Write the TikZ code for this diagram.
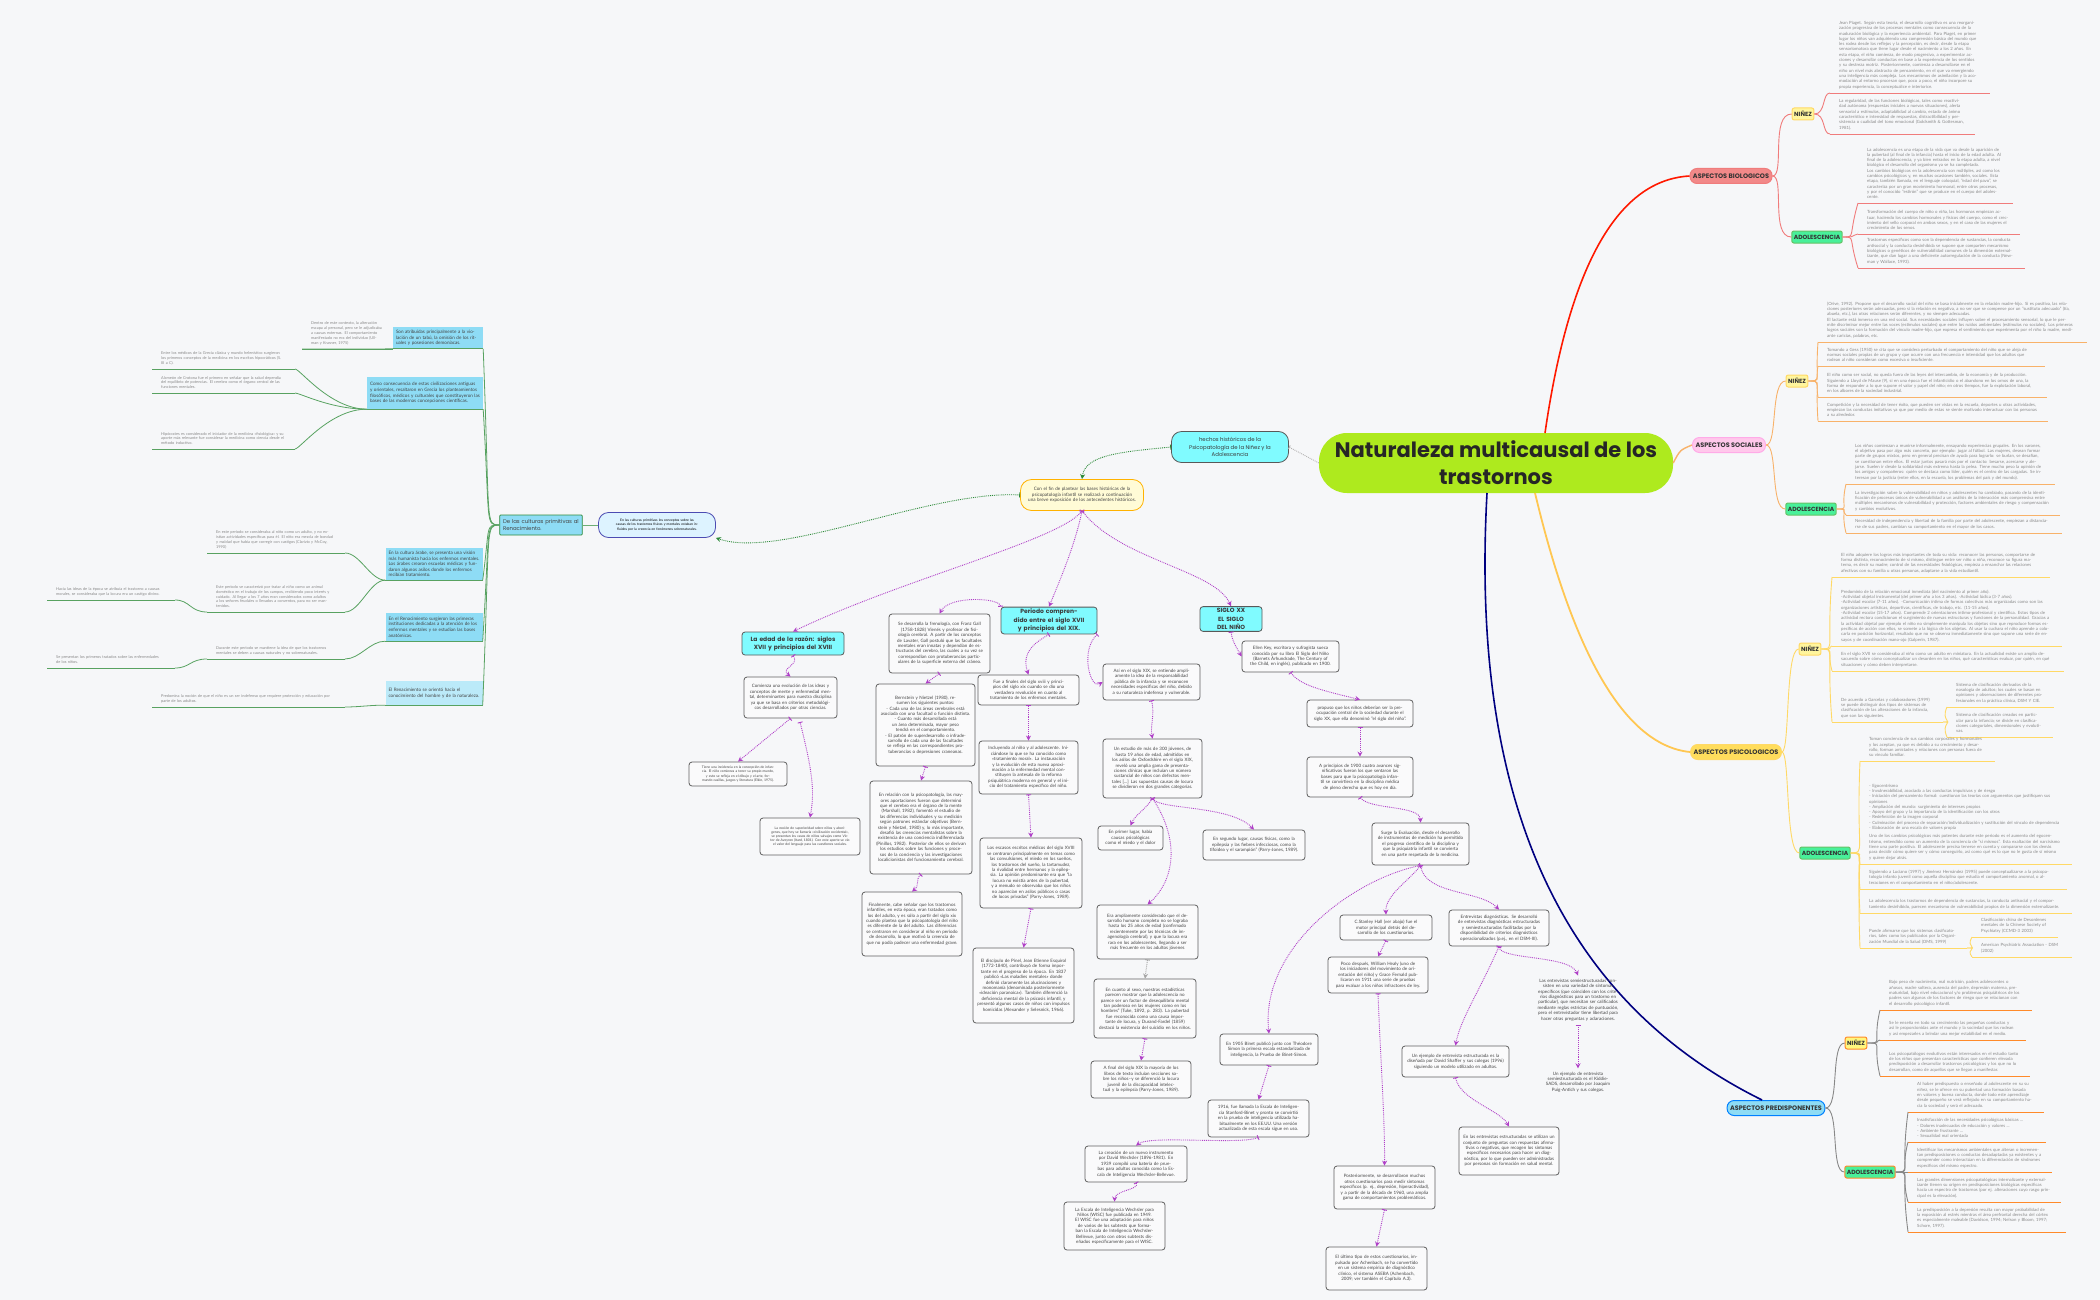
\documentclass[tikz,border=0pt]{standalone}
\usepackage{fontspec}
\setmainfont{Lato}
\newfontfamily\pop{Poppins}
\usetikzlibrary{arrows.meta}
\definecolor{bgc}{HTML}{F6F7F9}
\definecolor{pur}{HTML}{B040C8}
\definecolor{grn}{HTML}{2E8B3A}
\definecolor{lime}{HTML}{AEEA1E}
\definecolor{cyanb}{HTML}{80FBFF}
\definecolor{skyb}{HTML}{8EDCF5}
\definecolor{pale}{HTML}{DDF3FF}
\definecolor{yel}{HTML}{FFFBD6}
\definecolor{txt}{HTML}{555555}
\definecolor{bioC}{HTML}{F07C7C}
\definecolor{socC}{HTML}{F8B26A}
\definecolor{psiC}{HTML}{FFD966}
\definecolor{preC}{HTML}{888888}
\definecolor{ulO}{HTML}{FF8A2A}
\definecolor{nin}{HTML}{FFF59D}
\definecolor{ado}{HTML}{48F09A}
\tikzset{
 box/.style={draw=gray!75!black,rounded corners=3pt,fill=bgc!60!white,line width=0.8pt,align=center,inner sep=2pt,text=txt!80!black,font=\fontsize{4.5}{5.4}\selectfont},
 tiny/.style={font=\fontsize{3.4}{4.2}\selectfont},
 hd/.style={draw=gray!70!black,fill=cyanb,rounded corners=3pt,line width=0.8pt,align=center,font=\pop\bfseries\fontsize{6}{8.2}\selectfont,text=txt!70!black},
 pa/.style={draw=pur,densely dotted,line width=0.9pt,{Bar[width=5pt]}-{Stealth[length=5pt,width=5pt]}},
 ga/.style={draw=grn,densely dotted,line width=0.9pt,{Bar[width=5pt]}-{Stealth[length=5pt,width=5pt]}},
 para/.style={anchor=south west,align=left,text=txt!70,inner sep=1pt,font=\fontsize{4.3}{5.3}\selectfont},
 pill/.style={rounded corners=7pt,line width=1pt,font=\pop\bfseries\fontsize{6.5}{8}\selectfont,text=black!80,inner sep=3pt,minimum height=15pt},
 sub/.style={rounded corners=2pt,line width=1pt,font=\pop\bfseries\fontsize{6}{7}\selectfont,text=black!80,inner sep=2pt,minimum height=12pt},
}
\newcommand\bx[7][]{\node[box,#1,minimum width={#5-#3},minimum height={#6-#4},text width=\dimexpr#5pt-#3pt-8pt\relax] (#2) at ({(#3+#5)/2},{(#4+#6)/2}) {#7};}
\newcommand\pr[5]{\node[para,text width=\dimexpr#4pt-#2pt-12pt\relax] (#1) at (#2,#3-3) {#5};\coordinate (#1u) at (#2-8,#3);\draw[ul] (#1u) -- (#4,#3);}
\begin{document}
\begin{tikzpicture}[x=1pt,y=-1pt]
\path[fill=bgc] (0,0) rectangle (2100,1300);
\useasboundingbox (0,0) rectangle (2100,1300);

\node[fill=lime,rounded corners=28pt,minimum width=354,minimum height=60,align=center,font=\pop\bfseries\fontsize{21}{27}\selectfont,text=black!85] (title) at (1496,463) {Naturaleza multicausal de los\\trastornos};

\node[pill,fill=bioC!90,draw=bioC] (bio) at (1731,176) {ASPECTOS BIOLOGICOS};
\node[pill,fill=pink!70!magenta!45,draw=pink!60!magenta!60] (soc) at (1729,445) {ASPECTOS SOCIALES};
\node[pill,fill=psiC!90!yellow,draw=psiC] (psi) at (1736,752) {ASPECTOS PSICOLOGICOS};
\node[pill,fill=skyb,draw=blue!50!cyan] (pre) at (1776,1108) {ASPECTOS PREDISPONENTES};
\draw[red!80!orange,line width=1.6pt] (1545,433) .. controls (1570,260) and (1620,180) .. (bio.west);
\draw[socC,line width=1.4pt] (title.east) .. controls (1680,450) .. (soc.west);
\draw[psiC!80!orange,line width=1.8pt] (1535,493) .. controls (1570,640) and (1620,745) .. (psi.west);
\draw[blue!50!black,line width=1.6pt] (1487,493) .. controls (1470,800) and (1560,1000) .. (1762,1100);

\node[sub,fill=nin,draw=psiC] (bn) at (1803,114) {NIÑEZ};
\node[sub,fill=ado,draw=green!60!black!60] (ba) at (1817,237) {ADOLESCENCIA};
\draw[bioC,line width=0.9pt] (bio.east) .. controls (1785,176) and (1770,114) .. (bn.west);
\draw[bioC,line width=0.9pt] (bio.east) .. controls (1785,176) and (1770,237) .. (ba.west);
\begin{scope}[ul/.style={bioC,line width=0.9pt}]
\pr{b1}{1838}{93}{1990}{Jean Piaget. Según esta teoría, el desarrollo cognitivo es una reorganización progresiva de los procesos mentales como consecuencia de la maduración biológica y la experiencia ambiental. Para Piaget, en primer lugar los niños van adquiriendo una comprensión básica del mundo que les rodea desde los reflejos y la percepción, es decir, desde la etapa sensoriomotora que tiene lugar desde el nacimiento a los 2 años. En esta etapa, el niño comienza, de modo progresivo, a experimentar acciones y desarrollar conductas en base a la experiencia de los sentidos y su destreza motriz. Posteriormente, comienza a desarrollarse en el niño un nivel más abstracto de pensamiento, en el que va emergiendo una inteligencia más compleja. Los mecanismos de asimilación y la acomodación al entorno procesan que, poco a poco, el niño incorpore su propia experiencia, la conceptualice e interiorice.}
\pr{b2}{1838}{134}{1975}{La regularidad, de las funciones biológicas, tales como reactividad autónoma (respuestas iniciales a nuevas situaciones), alerta sensorial a estímulos, adaptabilidad al cambio, estado de ánimo característico e intensidad de respuestas, distractibilidad y persistencia o cualidad del tono emocional (Goldsmith \& Gottesman, 1981).}
\pr{b3}{1866}{203}{2013}{La adolescencia es una etapa de la vida que va desde la aparición de la pubertad (al final de la infancia) hasta el inicio de la edad adulta. Al final de la adolescencia, y ya bien entrados en la etapa adulta, a nivel biológico el desarrollo del organismo ya se ha completado.\\Los cambios biológicos en la adolescencia son múltiples, así como los cambios psicológicos y, en muchas ocasiones también, sociales. Esta etapa, también llamada, en el lenguaje coloquial, "edad del pavo", se caracteriza por un gran movimiento hormonal, entre otros procesos, y por el conocido "estirón" que se produce en el cuerpo del adolescente.}
\pr{b4}{1866}{234}{2020}{Transformación del cuerpo de niño o niña, las hormonas empiezan actuar, haciendo los cambios hormonales y físicos del cuerpo, como el crecimiento del vello corporal en ambos sexos, y en el caso de las mujeres el crecimiento de los senos.}
\pr{b5}{1866}{268}{2025}{Trastornos específicos como son la dependencia de sustancias, la conducta antisocial y la conducta desinhibida se supone que comparten mecanismo biológicos o genéticos de vulnerabilidad comunes de la dimensión externalizante, que dan lugar a una deficiente autorregulación de la conducta (Newman y Wallace, 1993).}
\end{scope}
\draw[bioC,line width=0.9pt] (bn.east) .. controls (1826,114) and (1822,93) .. (b1u);
\draw[bioC,line width=0.9pt] (bn.east) .. controls (1826,114) and (1822,134) .. (b2u);
\foreach \p in {b3,b4,b5}{\draw[bioC,line width=0.9pt] (ba.east) .. controls (1856,237) and (1848,237) .. (\p u);}

\node[sub,fill=nin,draw=psiC] (sn) at (1797,381) {NIÑEZ};
\node[sub,fill=ado,draw=green!60!black!60] (sa) at (1811,509) {ADOLESCENCIA};
\draw[socC,line width=0.9pt] (soc.east) .. controls (1778,445) and (1770,381) .. (sn.west);
\draw[socC,line width=0.9pt] (soc.east) .. controls (1778,445) and (1770,509) .. (sa.west);
\begin{scope}[ul/.style={socC,line width=0.9pt}]
\pr{s1}{1826}{342}{2087}{(Orive, 1992). Propone que el desarrollo social del niño se basa inicialmente en la relación madre-hijo. Si es positiva, las relaciones posteriores serán adecuadas, pero si la relación es negativa, a no ser que se compense por un "sustituto adecuado" (tía, abuela, etc.), las otras relaciones serán diferentes, y no siempre adecuadas.\\El lactante está inmerso en una red social. Sus necesidades sociales influyen sobre el procesamiento sensorial, lo que le permite discriminar mejor entre las voces (estímulos sociales) que entre los ruidos ambientales (estímulos no sociales). Los primeros logros sociales son la formación del vínculo madre-hijo, que expresa el sentimiento que experimenta por el niño la madre, mediante caricias, palabras, etc.}
\pr{s2}{1826}{366}{2045}{Tomando a Gess (1950) se cita que se considera perturbado el comportamiento del niño que se aleja de normas sociales propias de un grupo y que ocurre con una frecuencia e intensidad que los adultos que rodean al niño consideran como excesiva o insuficiente.}
\pr{s3}{1826}{397}{2047}{El niño como ser social, no queda fuera de las leyes del intercambio, de la economía y de la producción. Siguiendo a Lloyd de Mause (9), si en una época fue el infanticidio o el abandono en los ornos de una, la forma de responder a lo que supone el valor y papel del niño; en otros tiempos, fue la explotación laboral, en los albores de la sociedad industrial.}
\pr{s4}{1826}{421}{2048}{Competición y la necesidad de tener éxito, que pueden ser vistas en la escuela, deportes u otras actividades, empiezan las conductas imitativas ya que por medio de estas se siente motivado interactuar con las personas a su alrededor.}
\pr{s5}{1854}{484}{2055}{Los niños comienzan a reunirse informalmente, ensayando experiencias grupales. En los varones, el objetivo pasa por algo más concreto, por ejemplo: jugar al fútbol. Las mujeres, desean formar parte de grupos mixtos, pero en general precisan de ayuda para lograrlo: se burlan, se desafían, se cuestionan entre ellos. El estar juntos pasará más por el contacto: besarse, acercarse y alejarse. Suelen ir desde la solidaridad más extrema hasta la pelea. Tiene mucho peso la opinión de los amigos y compañeros: quién se destaca como líder, quién es el centro de las cargadas. Se interesan por la justicia (entre ellos, en la escuela, los problemas del país y del mundo).}
\pr{s6}{1854}{515}{2060}{La investigación sobre la vulnerabilidad en niños y adolescentes ha cambiado, pasando de la identificación de procesos únicos de vulnerabilidad a un análisis de la interacción más comprensiva entre múltiples mecanismos de vulnerabilidad y protección, factores ambientales de riesgo y compensación y cambios evolutivos.}
\pr{s7}{1854}{533}{2062}{Necesidad de independencia y libertad de la familia por parte del adolescente, empiezan a distanciarse de sus padres, cambian su comportamiento en el mayor de los casos.}
\end{scope}
\foreach \p in {s1,s2,s3,s4}{\draw[socC,line width=0.9pt] (sn.east) .. controls (1822,381) and (1815,381) .. (\p u);}
\foreach \p in {s5,s6,s7}{\draw[socC,line width=0.9pt] (sa.east) .. controls (1850,509) and (1840,509) .. (\p u);}

\node[sub,fill=nin,draw=psiC] (pn) at (1810,649) {NIÑEZ};
\node[sub,fill=ado,draw=green!60!black!60] (pad) at (1825,853) {ADOLESCENCIA};
\draw[psiC,line width=0.9pt] (psi.east) .. controls (1790,752) and (1785,649) .. (pn.west);
\draw[psiC,line width=0.9pt] (psi.east) .. controls (1790,752) and (1785,853) .. (pad.west);
\begin{scope}[ul/.style={psiC,line width=0.9pt}]
\pr{q1}{1840}{577}{2050}{El niño adquiere los logros más importantes de toda su vida: reconocer las personas, comportarse de forma distinta, reconocimiento de sí mismo, distingue entre ser niño o niña, reconoce su figura materna, es decir su madre; control de las necesidades fisiológicas, empieza a ensanchar las relaciones afectivas con su familia u otras personas, adaptarse a la vida estudiantil.}
\pr{q2}{1840}{646}{2062}{Predominio de la relación emocional inmediata (del nacimiento al primer año).\\ -Actividad objetal instrumental (del primer año a los 3 años). -Actividad lúdica (3-7 años).\\ -Actividad escolar (7-11 años). -Comunicación íntima de formas colectivas más organizadas como son las organizaciones artísticas, deportivas, científicas, de trabajo, etc. (11-15 años).\\ -Actividad escolar (15-17 años). Comprende 2 orientaciones íntimo-profesional y científica. Estos tipos de actividad rectora condicionan el surgimiento de nuevas estructuras y funciones de la personalidad. Gracias a la actividad objetal por ejemplo el niño no simplemente manipula los objetos sino que reproduce formas específicas de acción con ellos, se somete a la lógica de los objetos. Al usar la cuchara el niño aprende a colocarla en posición horizontal, resultado que no se observa inmediatamente sino que supone una serie de ensayos y de coordinación mano-ojo (Galperin, 1987).}
\pr{q3}{1840}{671}{2064}{En el siglo XVII se consideraba al niño como un adulto en miniatura. En la actualidad existe un amplio desacuerdo sobre cómo conceptualizar un desorden en los niños, qué características evaluar, por quién, en qué situaciones y cómo deben interpretarse.}
\pr{q4}{1840}{722}{1943}{De acuerdo a Garcelas y colaboradores (1999) se puede distinguir dos tipos de sistemas de clasificación de las alteraciones de la infancia, que son las siguientes.}
\pr{q5}{1955}{707}{2054}{Sistema de clasificación derivados de la nosología de adultos; los cuales se basan en opiniones y observaciones de diferentes profesionales en la práctica clínica, DSM Y CIE.}
\pr{q6}{1955}{737}{2053}{Sistema de clasificación creados en particular para la infancia; se divide en clasificaciones categoriales, dimensionales y evolutivas.}
\pr{q7}{1868}{761}{1995}{Toman conciencia de sus cambios corporales y hormonales y los aceptan, ya que es debido a su crecimiento y desarrollo, forman amistades y relaciones con personas fuera de su vínculo familiar.}
\pr{q8}{1868}{864}{2072}{- Egocentrismo\\- Invulnerabilidad, asociado a las conductas impulsivas y de riesgo\\- Iniciación del pensamiento formal: cuestionan las teorías con argumentos que justifiquen sus opiniones\\- Ampliación del mundo: surgimiento de intereses propios\\- Apoyo del grupo y la importancia de la identificación con los otros\\- Redefinición de la imagen corporal\\- Culminación del proceso de separación/individualización y sustitución del vínculo de dependencia\\- Elaboración de una escala de valores propia\\[3pt]Uno de los cambios psicológicos más potentes durante este periodo es el aumento del egocentrismo, entendido como un aumento de la conciencia de "sí mismos". Esta exaltación del narcisismo tiene una parte positiva. El adolescente precisa tenerse en cuenta y compararse con los demás para decidir cómo quiere ser y cómo conseguirlo, así como qué es lo que no le gusta de sí mismo y quiere dejar atrás.}
\pr{q9}{1868}{889}{2067}{Siguiendo a Luciano (1997) y Jiménez Hernández (1995) puede conceptualizarse a la psicopatología infanto juvenil como aquella disciplina que estudia el comportamiento anormal, o alteraciones en el comportamiento en el niño/adolescente.}
\pr{q10}{1868}{913}{2072}{La adolescencia los trastornos de dependencia de sustancias, la conducta antisocial y el comportamiento desinhibido, parecen mecanismo de vulnerabilidad propios de la dimensión externalizante.}
\pr{q11}{1868}{948}{1967}{Puede afirmarse que los sistemas clasificatorios, tales como los publicados por la Organización Mundial de la Salud (OMS, 1999)}
\pr{q12}{1980}{937}{2058}{Clasificación china de Desordenes mentales de la Chinese Society of Psychiatry (CCMD-3 2003)}
\pr{q13}{1980}{957}{2072}{American Psychiatric Association - DSM (2002)}
\end{scope}
\foreach \p in {q1,q2,q3,q4}{\draw[psiC,line width=0.9pt] (pn.east) .. controls (1836,649) and (1826,649) .. (\p u);}
\foreach \p in {q5,q6}{\draw[psiC,line width=0.9pt] (1943,722) .. controls (1955,722) and (1940,722) .. (\p u);}
\foreach \p in {q7,q8,q9,q10,q11}{\draw[psiC,line width=0.9pt] (pad.east) .. controls (1866,853) and (1856,853) .. (\p u);}
\foreach \p in {q12,q13}{\draw[psiC,line width=0.9pt] (1967,948) .. controls (1980,948) and (1965,948) .. (\p u);}

\node[sub,fill=nin!80!yellow,draw=ulO] (rn) at (1856,1043) {NIÑEZ};
\node[sub,fill=ado,draw=ulO] (ra) at (1870,1172) {ADOLESCENCIA};
\draw[preC,line width=0.9pt] (pre.east) .. controls (1840,1108) and (1830,1043) .. (rn.west);
\draw[preC,line width=0.9pt] (pre.east) .. controls (1840,1108) and (1830,1172) .. (ra.west);
\begin{scope}[ul/.style={ulO,line width=0.9pt}]
\pr{r1}{1888}{1010}{2032}{Bajo peso de nacimiento, mal nutrición, padres adolescentes o añosos, madre soltera, ausencia del padre, depresión materna, prematuridad, bajo nivel educacional y/o problemas psiquiátricos de los padres son algunos de los factores de riesgo que se relacionan con el desarrollo psicológico infantil.}
\pr{r2}{1888}{1040}{2026}{Se le enseña en todo su crecimiento las pequeñas conductas y así le proporcionidas ante el mundo y la sociedad que los rodean y así empezarles a brindar una mejor estabilidad en el medio.}
\pr{r3}{1888}{1076}{2030}{Los psicopatólogos evolutivos están interesados en el estudio tanto de los niños que presentan características que confieren elevada predisposición a desarrollar trastornos psicológicos y los que no lo desarrollan, como de aquellos que se llegan a manifestar.}
\pr{r4}{1916}{1112}{2044}{Al haber predispuesto o enseñado al adolescente en su su niñez, se le ofrece en su pubertad una formación basada en valores y buena conducta, donde todo este aprendizaje desde pequeño se verá reflejado en su comportamiento hacia la sociedad y será el adecuado.}
\pr{r5}{1916}{1142}{2046}{Insatisfacción de las necesidades psicológicas básicas ...\\- Dolores inadecuados de educación y valores ...\\- Ambiente frustrante ...\\- Sexualidad mal orientada}
\pr{r6}{1916}{1172}{2052}{Identificar los mecanismos ambientales que alteran o incrementan predisposiciones o conductas desadaptadas ya existentes y a comprender como interactúan en la diferenciación de síndromes específicos del mismo espectro.}
\pr{r7}{1916}{1202}{2061}{Las grandes dimensiones psicopatológicas internalizante y externalizante tienen su origen en predisposiciones biológicas específicas hacia un espectro de trastornos (por ej. alteraciones cuyo rasgo principal es la elevación).}
\pr{r8}{1916}{1232}{2066}{La predisposición a la depresión resulta con mayor probabilidad de la exposición al estrés mientras el área prefrontal derecha del córtex es especialmente maleable (Davidson, 1994; Nelson y Bloom, 1997; Schore, 1997).}
\end{scope}
\foreach \p in {r1,r2,r3}{\draw[preC,line width=0.9pt] (rn.east) .. controls (1884,1043) and (1872,1043) .. (\p u);}
\foreach \p in {r4,r5,r6,r7,r8}{\draw[preC,line width=0.9pt] (ra.east) .. controls (1912,1172) and (1900,1172) .. (\p u);}

\node[draw=gray!70!black,fill=cyanb,rounded corners=10pt,line width=0.8pt,minimum width=117,minimum height=31,align=center,font=\pop\fontsize{5.4}{7.3}\selectfont,text=txt!70!black] (hechos) at (1230,447) {hechos históricos de la\\Psicopatología de la Niñez y la\\Adolescencia};
\node[draw=orange!60!yellow,fill=yel,rounded corners=11pt,line width=0.8pt,minimum width=123,minimum height=31,align=center,text width=108,font=\fontsize{4.6}{5.6}\selectfont,text=txt!80!black] (fin) at (1082,495) {Con el fin de plantear las bases históricas de la psicopatología infantil se realizará a continuación una breve exposición de los antecedentes históricos.};
\draw[gray!60,densely dotted,line width=0.9pt,{Bar[width=4pt]}-] (hechos.east) -- (title.west);
\draw[ga] (hechos.west) .. controls (1120,452) and (1085,455) .. (fin.north);

\bx[hd]{edad}{742}{632}{844}{655}{La edad de la razón: siglos XVII y principios del XVIII}
\bx[hd]{periodo}{1001}{609}{1097}{632}{Periodo comprendido entre el siglo XVII y principios del XIX.}
\bx[hd]{sxx}{1200}{607}{1262}{631}{SIGLO XX\\EL SIGLO DEL NIÑO}
\draw[pa] (fin.south) .. controls (1060,540) and (900,580) .. (edad.north);
\draw[pa] (fin.south) .. controls (1075,545) and (1060,580) .. (periodo.north);
\draw[pa] (fin.south) .. controls (1120,560) and (1215,570) .. (sxx.north);

\node[draw=grn,fill=skyb,line width=0.8pt,rounded corners=1pt,minimum width=82,minimum height=20,align=left,text width=76,font=\pop\fontsize{5.4}{7}\selectfont,text=txt!80!black] (cult) at (541,525) {De las culturas primitivas al Renacimiento.};
\node[draw=gray!60!blue,fill=pale,rounded corners=10pt,line width=0.8pt,minimum width=117,minimum height=25,text width=100,align=center,tiny] (prim) at (657,525) {En las culturas primitivas los conceptos sobre las causas de los trastornos físicos y mentales estaban influidos por la creencia en fenómenos sobrenaturales.};
\draw[grn!70,line width=0.8pt] (cult.east) -- (prim.west);
\draw[ga] (fin.west) .. controls (930,490) and (780,560) .. (prim.south east);

\tikzset{lb/.style={fill=skyb,inner sep=3pt,align=left,font=\fontsize{4.6}{5.6}\selectfont,text=txt!80!black}}
\node[lb,text width=84,minimum height=21] (L1) at (438,338) {Son atribuidas principalmente a la violación de un tabú, la omisión de los rituales y posesiones demoníacas.};
\node[lb,text width=110,minimum height=32] (L2) at (425,393) {Como consecuencia de estas civilizaciones antiguas y orientales, resaltaron en Grecia los planteamientos filosóficos, médicos y culturales que constituyeron las bases de las modernas concepciones científicas.};
\node[lb,text width=91,minimum height=32] (L3) at (434,564) {En la cultura árabe, se presenta una visión más humanista hacia los enfermos mentales. Los árabes crearon escuelas médicas y fundaron algunos asilos donde los enfermos recibían tratamiento.};
\node[lb,text width=91,minimum height=28] (L4) at (434,627) {En el Renacimiento surgieron las primeras instituciones dedicadas a la atención de los enfermos mentales y se estudian las bases anatómicas.};
\node[lb,text width=91,minimum height=24,fill=skyb!60] (L5) at (434,693) {El Renacimiento se orientó hacia el conocimiento del hombre y de la naturaleza.};
\foreach \n in {L1,L2,L3,L4,L5}{\draw[grn!80,line width=0.8pt] (\n.south west) -- (\n.south east); \draw[grn!80,line width=0.8pt] (cult.west) .. controls (485,525) and (490,525) .. (\n.south east);}
\begin{scope}[ul/.style={grn!80,line width=0.8pt},para/.append style={font=\fontsize{3.9}{4.8}\selectfont}]
\pr{t1}{310}{349}{393}{Dentro de este contexto, la alteración escapa al personal, pero se le adjudicaba a causas externas. El comportamiento manifestado no era del individuo (Ullman y Krasner, 1975)}
\pr{t2}{160}{369}{295}{Entre los médicos de la Grecia clásica y mundo helenístico surgieron los primeros conceptos de la medicina en los escritos hipocráticos (S. III a C).}
\pr{t3}{160}{393}{295}{Alcmeón de Crotona fue el primero en señalar que la salud dependía del equilibrio de potencias. El cerebro como el órgano central de las funciones mentales.}
\pr{t4}{160}{449}{295}{Hipócrates es considerado el iniciador de la medicina «fisiológica» y su aporte más relevante fue considerar la medicina como ciencia desde el método inductivo.}
\pr{t5}{215}{553}{345}{En este periodo se consideraba al niño como un adulto, y no existían actividades específicas para él. El niño era mezcla de bondad y maldad que había que corregir con castigos (Clarizio y McCoy, 1990)}
\pr{t6}{215}{612}{345}{Este periodo se caracterizó por tratar al niño como un animal doméstico en el trabajo de los campos, recibiendo poco interés y cuidado. Al llegar a los 7 años eran considerados como adultos a los señores feudales o llevados a conventos, para no ser mantenidos.}
\pr{t7}{215}{659}{345}{Durante este periodo se mantiene la idea de que los trastornos mentales se deben a causas naturales y no sobrenaturales.}
\pr{t8}{55}{600}{175}{Hacia las ideas de la época se atribuía el trastorno a causas morales, se consideraba que la locura era un castigo divino.}
\pr{t9}{55}{668}{175}{Se presentan los primeros tratados sobre las enfermedades de los niños.}
\pr{t10}{160}{707}{345}{Predomina la noción de que el niño es un ser indefenso que requiere protección y educación por parte de los adultos.}
\end{scope}
\draw[grn!80,line width=0.8pt] (t1u) -- (L1.south west);
\draw[grn!80,line width=0.8pt] (L2.south west) .. controls (330,409) and (300,369) .. (295,369);
\draw[grn!80,line width=0.8pt] (L2.south west) .. controls (330,409) and (300,393) .. (295,393);
\draw[grn!80,line width=0.8pt] (L2.south west) .. controls (330,409) and (300,449) .. (295,449);
\draw[grn!80,line width=0.8pt] (L3.south west) .. controls (370,580) and (360,553) .. (345,553);
\draw[grn!80,line width=0.8pt] (L3.south west) .. controls (370,580) and (360,612) .. (345,612);
\draw[grn!80,line width=0.8pt] (L4.south west) .. controls (370,641) and (360,659) .. (345,659);
\draw[grn!80,line width=0.8pt] (t6u) .. controls (190,612) and (190,600) .. (175,600);
\draw[grn!80,line width=0.8pt] (t7u) .. controls (190,659) and (190,668) .. (175,668);
\draw[grn!80,line width=0.8pt] (L5.south west) .. controls (370,705) and (360,707) .. (345,707);

\bx{comienza}{744}{677}{837}{718}{Comienza una evolución de las ideas y conceptos de mente y enfermedad mental, determinantes para nuestra disciplina ya que se basa en criterios metodológicos desarrollados por otras ciencias.}
\bx[tiny]{tiene}{689}{762}{787}{786}{Tiene una incidencia en la concepción de infancia. El niño comienza a tener su propio mundo, y esto se refleja en el dibujo y el arte, formando casillas, juegos y literatura (Elkin, 1975).}
\bx[tiny]{salvaje}{760}{818}{860}{855}{La noción de superioridad sobre niños y aborígenes, que hoy se llamaría «civilización occidental», se presentan los casos de niños salvajes como Víctor de Aveyron (Itard, 1801). Con este aporte se vio el valor del lenguaje para las cuestiones sociales.}
\draw[pa] (edad.south) .. controls (800,665) and (780,668) .. (comienza.north);
\draw[pa] (comienza.south) -- (tiene.north);
\draw[pa] (800,722) .. controls (812,770) and (815,790) .. (salvaje.north);

\bx{freno}{889}{614}{990}{673}{Se desarrolla la frenología, con Franz Gall (1758-1828) Vienés y profesor de fisiología cerebral. A partir de los conceptos de Lavater, Gall postuló que las facultades mentales eran innatas y dependían de estructuras del cerebro, las cuales a su vez se correspondían con protuberancias particulares de la superficie externa del cráneo.}
\bx{bern}{876}{684}{975}{766}{Bernstein y Nietzel (1980), resumen los siguientes puntos:\\- Cada una de las áreas cerebrales está asociada con una facultad o función distinta.\\- Cuanto más desarrollada está un área determinada, mayor peso tendrá en el comportamiento.\\- El patrón de superdesarrollo o infradesarrollo de cada una de las facultades se refleja en las correspondientes protuberancias o depresiones craneanas.}
\bx{rel}{870}{781}{972}{874}{En relación con la psicopatología, las mayores aportaciones fueron que determinó que el cerebro era el órgano de la mente (Marshall, 1982), fomentó el estudio de las diferencias individuales y su medición según patrones estándar objetivos (Bernstein y Nietzel, 1980) y, lo más importante, desafió las creencias mentalistas sobre la existencia de una conciencia indiferenciada (Pinillos, 1982). Posterior de ellos se derivan los estudios sobre las funciones y procesos de la conciencia y las investigaciones localicionistas del funcionamiento cerebral.}
\bx{finalm}{862}{892}{962}{956}{Finalmente, cabe señalar que los trastornos infantiles, en esta época, eran tratados como los del adulto, y es sólo a partir del siglo xix cuando plantea que la psicopatología del niño es diferente de la del adulto. Las diferencias se centraron en considerar al niño en periodo de desarrollo, lo que motivó la creencia de que no podía padecer una enfermedad grave.}
\bx{fue}{978}{675}{1079}{705}{Fue a finales del siglo xviii y principios del siglo xix cuando se dio una verdadera revolución en cuanto al tratamiento de los enfermos mentales.}
\bx{inclu}{979}{741}{1078}{794}{Incluyendo al niño y al adolescente. Iniciándose lo que se ha conocido como «tratamiento moral». La instauración y la evolución de esta nueva aproximación a la enfermedad mental constituyen la antesala de la reforma psiquiátrica moderna en general y el inicio del tratamiento específico del niño.}
\bx{escasos}{980}{838}{1082}{908}{Los escasos escritos médicos del siglo XVIII se centraron principalmente en temas como las convulsiones, el miedo en los sueños, los trastornos del sueño, la tartamudez, la rivalidad entre hermanos y la epilepsia. La opinión predominante era que "la locura no existía antes de la pubertad, y a menudo se observaba que los niños no aparecían en asilos públicos o casas de locos privadas" (Parry-Jones, 1989).}
\bx{disc}{973}{948}{1074}{1023}{El discípulo de Pinel, Jean Etienne Esquirol (1772-1840), contribuyó de forma importante en el progreso de la época. En 1837 publicó «Las maladies mentales» donde definió claramente las alucinaciones y monomanía (denominada posteriormente «ideación paranoica»). También diferenció la deficiencia mental de la psicosis infantil, y presentó algunos casos de niños con impulsos homicidas (Alexander y Selesnick, 1966).}
\bx{asi}{1103}{664}{1200}{700}{Así en el siglo XIX, se entiende ampliamente la idea de la responsabilidad pública de la infancia y se reconocen necesidades específicas del niño, debido a su naturaleza indefensa y vulnerable.}
\bx{estudio}{1103}{739}{1202}{798}{Un estudio de más de 300 jóvenes, de hasta 19 años de edad, admitidos en los asilos de Oxfordshire en el siglo XIX, reveló una amplia gama de presentaciones clínicas que incluían un número sustancial de niños con defectos mentales [...] Las supuestas causas de locura se dividieron en dos grandes categorías.}
\bx{primer}{1098}{826}{1163}{850}{En primer lugar, había causas psicológicas como el miedo y el dolor}
\bx{segundo}{1203}{830}{1305}{860}{En segundo lugar, causas físicas, como la epilepsia y las fiebres infecciosas, como la tifoidea y el sarampión" (Parry-Jones, 1989).}
\bx{era}{1097}{905}{1198}{959}{Era ampliamente considerado que el desarrollo humano completo no se lograba hasta los 25 años de edad (confirmado recientemente por las técnicas de imagenología cerebral), y que la locura era rara en los adolescentes, llegando a ser más frecuente en los adultos jóvenes}
\bx{sexo}{1094}{979}{1196}{1038}{En cuanto al sexo, nuestras estadísticas parecen mostrar que la adolescencia no parece ser un factor de desequilibrio mental tan poderoso en las mujeres como en los hombres" (Tuke, 1892, p. 283). La pubertad fue reconocida como una causa importante de locura, y Durand-Fardel (1859) destacó la existencia del suicidio en los niños.}
\bx{afinal}{1091}{1061}{1191}{1098}{A final del siglo XIX la mayoría de los libros de texto incluían secciones sobre los niños--y se diferenció la locura juvenil de la discapacidad intelectual y la epilepsia (Parry-Jones, 1989).}
\draw[pa] (periodo.north west) .. controls (1000,598) and (950,595) .. (freno.north);
\draw[pa] (freno.south) -- (bern.north);
\draw[pa] (bern.south) -- (rel.north);
\draw[pa] (rel.south) .. controls (915,880) and (920,885) .. (finalm.north);
\draw[pa] (periodo.south) .. controls (1040,640) and (1020,650) .. (fue.north);
\draw[pa] (periodo.south east) .. controls (1080,650) and (1090,690) .. (asi.west);
\draw[pa] (fue.south) -- (inclu.north);
\draw[pa] (inclu.south) -- (escasos.north);
\draw[pa] (escasos.south) -- (disc.north);
\draw[pa] (asi.south) .. controls (1155,715) and (1150,725) .. (estudio.north);
\draw[pa] (estudio.south) .. controls (1145,810) and (1135,815) .. (primer.north);
\draw[pa] (estudio.south) .. controls (1160,810) and (1230,805) .. (segundo.north);
\draw[pa] (estudio.south) .. controls (1180,840) and (1175,880) .. (era.north);
\draw[pa,draw=gray!70] (era.south) -- (sexo.north);
\draw[pa] (sexo.south) -- (afinal.north);

\bx{ellen}{1242}{641}{1339}{672}{Ellen Key, escritora y sufragista sueca conocida por su libro El Siglo del Niño (Barnets Århundrade, The Century of the Child, en inglés), publicado en 1900.}
\bx{propuso}{1307}{700}{1413}{727}{propuso que los niños deberían ser la preocupación central de la sociedad durante el siglo XX, que ella denominó "el siglo del niño".}
\bx{aprin}{1307}{757}{1413}{797}{A principios de 1900 cuatro avances significativos fueron los que sentaron las bases para que la psicopatología infantil se convirtiera en la disciplina médica de pleno derecho que es hoy en día.}
\bx{surge}{1372}{823}{1469}{865}{Surge la Evaluación, desde el desarrollo de instrumentos de medición ha permitido el progreso científico de la disciplina y que la psiquiatría infantil se convierta en una parte respetada de la medicina.}
\bx{hall}{1340}{915}{1432}{940}{C.Stanley Hall (ver abajo) fue el motor principal detrás del desarrollo de los cuestionarios.}
\bx{entrev}{1449}{910}{1549}{946}{Entrevistas diagnósticas. Se desarrolló de entrevistas diagnósticas estructuradas y semiestructuradas facilitadas por la disponibilidad de criterios diagnósticos operacionalizados (p.ej., en el DSM-III).}
\bx{poco}{1328}{957}{1428}{993}{Poco después, William Healy (uno de los iniciadores del movimiento de orientación del niño) y Grace Fernald publicaron en 1911 una serie de pruebas para evaluar a los niños infractores de ley.}
\node[align=center,text width=90,text=txt!80!black,font=\fontsize{4.5}{5.4}\selectfont] (semi) at (1578,1000) {Las entrevistas semiestructuradas consisten en una variedad de síntomas específicos (que coinciden con los criterios diagnósticos para un trastorno en particular), que necesitan ser calificados mediante reglas estrictas de puntuación, pero el entrevistador tiene libertad para hacer otras preguntas y aclaraciones.};
\node[align=center,text width=75,text=txt!80!black,font=\fontsize{4.5}{5.4}\selectfont] (ejsemi) at (1578,1082) {Un ejemplo de entrevista semiestructurada es el Kiddie-SADS, desarrollado por Joaquim Puig-Antich y sus colegas.};
\bx{binet}{1220}{1034}{1318}{1065}{En 1905 Binet publicó junto con Théodore Simon la primera escala estandarizada de inteligencia, la Prueba de Binet-Simon.}
\bx{ejest}{1402}{1046}{1509}{1077}{Un ejemplo de entrevista estructurada es la diseñada por David Shaffer y sus colegas (1996) siguiendo un modelo utilizado en adultos.}
\bx{estruct}{1459}{1127}{1559}{1175}{En las entrevistas estructuradas se utilizan un conjunto de preguntas con respuestas afirmativas o negativas, que recogen los síntomas específicos necesarios para hacer un diagnóstico, por lo que pueden ser administradas por personas sin formación en salud mental.}
\bx{st}{1208}{1100}{1309}{1137}{1916, fue llamada la Escala de Inteligencia Stanford-Binet y pronto se convirtió en la prueba de inteligencia utilizada habitualmente en los EE.UU. Una versión actualizada de esta escala sigue en uso.}
\bx{creac}{1085}{1146}{1187}{1182}{La creación de un nuevo instrumento por David Wechsler (1896-1981). En 1939 compiló una batería de pruebas para adultos conocida como la Escala de Inteligencia Wechsler-Bellevue.}
\bx{wisc}{1064}{1202}{1165}{1250}{La Escala de Inteligencia Wechsler para Niños (WISC) fue publicada en 1949. El WISC fue una adaptación para niños de varios de los subtests que formaban la Escala de Inteligencia Wechsler-Bellevue, junto con otros subtests diseñados específicamente para el WISC.}
\bx{poster}{1334}{1166}{1435}{1209}{Posteriormente, se desarrollaron muchos otros cuestionarios para medir síntomas específicos (p. ej., depresión, hiperactividad), y a partir de la década de 1960, una amplia gama de comportamientos problemáticos.}
\bx{ultimo}{1326}{1247}{1427}{1290}{El último tipo de estos cuestionarios, impulsado por Achenbach, se ha convertido en un sistema empírico de diagnóstico clínico, el sistema ASEBA (Achenbach, 2009; ver también el Capítulo A.3).}
\draw[pa] (sxx.south) .. controls (1232,640) and (1235,645) .. (ellen.west);
\draw[pa] (ellen.south) .. controls (1300,685) and (1320,690) .. (propuso.north);
\draw[pa] (propuso.south) -- (aprin.north);
\draw[pa] (aprin.south) .. controls (1370,810) and (1420,805) .. (surge.north);
\draw[pa] (surge.south) .. controls (1410,880) and (1385,895) .. (hall.north);
\draw[pa] (surge.south) .. controls (1425,895) and (1480,890) .. (entrev.north);
\draw[pa] (surge.south) .. controls (1350,880) and (1260,950) .. (binet.north);
\draw[pa] (hall.south) -- (poco.north);
\draw[pa] (poco.south) .. controls (1380,1050) and (1385,1120) .. (poster.north);
\draw[pa] (entrev.south) .. controls (1500,960) and (1570,955) .. (semi.north);
\draw[pa] (entrev.south) .. controls (1480,990) and (1460,1020) .. (ejest.north);
\draw[pa] (semi.south) -- (ejsemi.north);
\draw[pa] (ejest.south) .. controls (1460,1100) and (1500,1110) .. (estruct.north);
\draw[pa] (poster.south) -- (ultimo.north);
\draw[pa] (binet.south) -- (st.north);
\draw[pa] (st.south) .. controls (1240,1145) and (1150,1135) .. (creac.north);
\draw[pa] (creac.south) .. controls (1140,1190) and (1115,1190) .. (wisc.north);
\end{tikzpicture}
\end{document}
